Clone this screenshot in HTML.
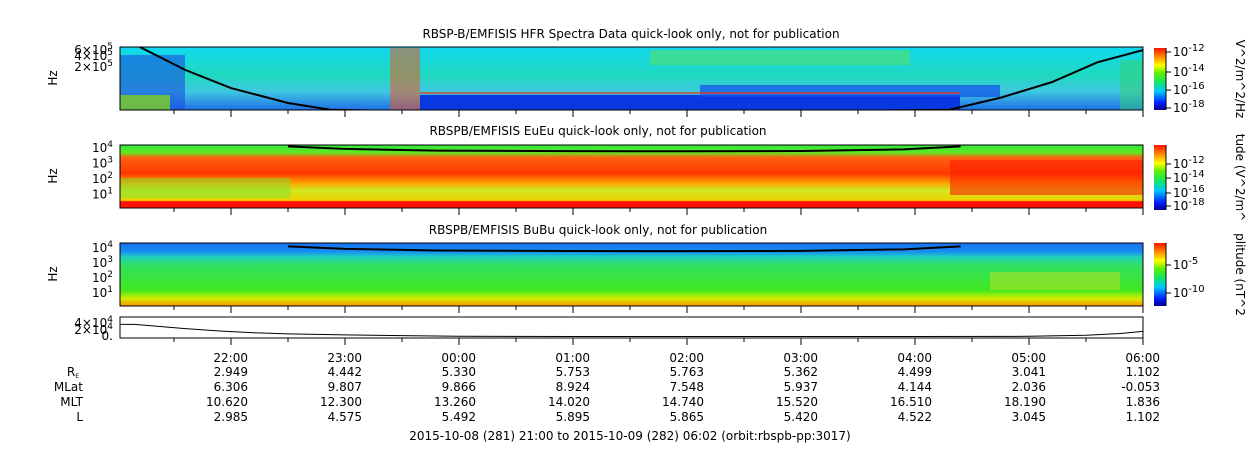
<!DOCTYPE html>
<html><head><meta charset="utf-8"><style>
body{margin:0;background:#fff;}
svg{display:block;font-family:"DejaVu Sans","Liberation Sans",sans-serif;}
</style></head><body>
<svg id="chart" width="1250" height="449" viewBox="0 0 1250 449" xmlns="http://www.w3.org/2000/svg">
<defs>
<linearGradient id="jet" x1="0" y1="1" x2="0" y2="0">
<stop offset="0" stop-color="#00008f"/><stop offset="0.12" stop-color="#0020ff"/><stop offset="0.3" stop-color="#00c8ff"/><stop offset="0.45" stop-color="#10e860"/><stop offset="0.6" stop-color="#60f000"/><stop offset="0.72" stop-color="#ffff00"/><stop offset="0.85" stop-color="#ff9000"/><stop offset="1" stop-color="#ff1000"/>
</linearGradient>
<linearGradient id="p1bg" x1="0" y1="0" x2="0" y2="1">
<stop offset="0" stop-color="#10d8f0"/><stop offset="0.45" stop-color="#20d8c0"/><stop offset="0.7" stop-color="#40c8e0"/><stop offset="1" stop-color="#2070e8"/>
</linearGradient>
<linearGradient id="p2bg" x1="0" y1="0" x2="0" y2="1">
<stop offset="0" stop-color="#30e840"/><stop offset="0.12" stop-color="#60e820"/><stop offset="0.2" stop-color="#ff6010"/><stop offset="0.45" stop-color="#ff3800"/><stop offset="0.6" stop-color="#ffa000"/><stop offset="0.72" stop-color="#d0e820"/><stop offset="0.88" stop-color="#f0d000"/><stop offset="0.9" stop-color="#ff1000"/><stop offset="1" stop-color="#ff1000"/>
</linearGradient>
<linearGradient id="p3bg" x1="0" y1="0" x2="0" y2="1">
<stop offset="0" stop-color="#1870f0"/><stop offset="0.14" stop-color="#1890f0"/><stop offset="0.22" stop-color="#20d0c0"/><stop offset="0.35" stop-color="#30e060"/><stop offset="0.75" stop-color="#40e820"/><stop offset="0.88" stop-color="#d0f000"/><stop offset="1" stop-color="#ff9000"/>
</linearGradient>
</defs>
<g id="panels"></g>
</svg>
<script>
const NS='http://www.w3.org/2000/svg';
const svg=document.getElementById('chart');
// --- data arrays ---
const timeTicks=[1,2,3,4,5,6,7,8,9];
const timeLabels=['22:00','23:00','00:00','01:00','02:00','03:00','04:00','05:00','06:00'];
const rowNames=['R_E','MLat','MLT','L'];
const rowRE=['2.949','4.442','5.330','5.753','5.763','5.362','4.499','3.041','1.102'];
const rowMLat=['6.306','9.807','9.866','8.924','7.548','5.937','4.144','2.036','-0.053'];
const rowMLT=['10.620','12.300','13.260','14.020','14.740','15.520','16.510','18.190','1.836'];
const rowL=['2.985','4.575','5.492','5.895','5.865','5.420','4.522','3.045','1.102'];
// plasma-line (hours after 21:00, Hz)
const hfrT=[0.2,0.6,1.0,1.5,1.87,3.0,5.0,7.3,7.75,8.2,8.6,9.0];
const hfrF=[7.2e5,1.65e5,5.2e4,2.0e4,1.3e4,1.1e4,1.1e4,1.3e4,2.8e4,7.6e4,2.7e5,5.9e5];
const fceT=[1.5,2.0,2.8,4.0,5.0,6.0,6.9,7.4];
const fceF=[1.1e4,7.5e3,5.8e3,5.4e3,5.3e3,5.5e3,7e3,1.1e4];
const ephT=[0,0.15,0.3,0.6,0.9,1.2,1.5,2.0,2.5,3.0,4,5,6,7,8,8.5,8.8,9.0];
const ephF=[3.6e4,3.6e4,3.2e4,2.4e4,1.7e4,1.2e4,9e3,6e3,4e3,2e3,1.5e3,1.5e3,1.5e3,1.5e3,2e3,5e3,1e4,1.6e4];
// --- axes ---
const X0=120,X1=1143;
const xT=t=>117+114*t;
const y1=f=>67-36*Math.log10(f/2e5);
const y2=f=>147+15.5*(4-Math.log10(f));
const y3=f=>247+15*(4-Math.log10(f));
const y4=f=>337-f/4e4*14;
function el(tag,attrs,parent){const e=document.createElementNS(NS,tag);for(const k in attrs)e.setAttribute(k,attrs[k]);(parent||svg).appendChild(e);return e;}
function txt(x,y,s,anchor,size,parent){const e=el('text',{x:x,y:y,'font-size':size||12,'text-anchor':anchor||'start',fill:'#000'},parent);e.textContent=s;return e;}
function clip(id,y0,y1_){const c=el('clipPath',{id:id},svg.querySelector('defs'));el('rect',{x:X0,y:y0,width:X1-X0,height:y1_-y0},c);}
clip('c1',47,110);clip('c2',145,208);clip('c3',243,306);clip('c4',317,338);

// Panel 1
let g=el('g',{'clip-path':'url(#c1)'});


el('rect',{x:X0,y:47,width:X1-X0,height:63,fill:'url(#p1bg)'},g);
el('rect',{x:650,y:50,width:260,height:15,fill:'#60e050',opacity:0.5},g);
el('rect',{x:420,y:95,width:540,height:15,fill:'#0838e0'},g);
el('rect',{x:700,y:85,width:300,height:12,fill:'#1050e8',opacity:0.7},g);
el('rect',{x:120,y:55,width:65,height:55,fill:'#1850e0',opacity:0.6},g);
el('rect',{x:120,y:95,width:50,height:15,fill:'#80d020',opacity:0.8},g);
el('rect',{x:390,y:48,width:30,height:62,fill:'#ff5010',opacity:0.5},g);
el('rect',{x:1120,y:60,width:23,height:50,fill:'#30d070',opacity:0.5},g);
el('rect',{x:420,y:92,width:540,height:2,fill:'#ff3000',opacity:0.6},g);
let pts=hfrT.map((t,i)=>xT(t)+','+y1(hfrF[i])).join(' ');
let pl=el('polyline',{points:pts,fill:'none',stroke:'#000','stroke-width':2},g);


// Panel 2
g=el('g',{'clip-path':'url(#c2)'});


el('rect',{x:X0,y:145,width:X1-X0,height:63,fill:'url(#p2bg)'},g);
el('rect',{x:120,y:178,width:170,height:20,fill:'#80e030',opacity:0.5},g);
el('rect',{x:950,y:160,width:193,height:35,fill:'#ff2000',opacity:0.6},g);
pts=fceT.map((t,i)=>xT(t)+','+y2(fceF[i])).join(' ');
pl=el('polyline',{points:pts,fill:'none',stroke:'#000','stroke-width':2},g);


// Panel 3
g=el('g',{'clip-path':'url(#c3)'});


el('rect',{x:X0,y:243,width:X1-X0,height:63,fill:'url(#p3bg)'},g);
el('rect',{x:990,y:272,width:130,height:18,fill:'#e0e020',opacity:0.4},g);
pts=fceT.map((t,i)=>xT(t)+','+y3(fceF[i])).join(' ');
pl=el('polyline',{points:pts,fill:'none',stroke:'#000','stroke-width':2},g);


// Panel 4
g=el('g',{'clip-path':'url(#c4)'});


pts=ephT.map((t,i)=>xT(t)+','+y4(ephF[i])).join(' ');
pl=el('polyline',{points:pts,fill:'none',stroke:'#000','stroke-width':1},g);



// frames, ticks
const frames=[[47,110],[145,208],[243,306],[317,338]];
frames.forEach((f,i)=>{
 const r=el('rect',{x:X0,y:f[0],width:X1-X0,height:f[1]-f[0],fill:'none',stroke:'#000','stroke-width':1});
 
 
 for(let t=0.5;t<=9.1;t+=0.5){const major=Math.abs(t-Math.round(t))<0.01;
  el('line',{x1:xT(t),x2:xT(t),y1:f[1],y2:f[1]+(major?7:4),stroke:'#000'});}
});
// titles
[[631,38,'RBSP-B/EMFISIS  HFR Spectra Data quick-look only, not for publication'],[598,135,'RBSPB/EMFISIS  EuEu quick-look only, not for publication'],[598,234,'RBSPB/EMFISIS  BuBu quick-look only, not for publication']].forEach((a,i)=>{
 const t=txt(a[0],a[1],a[2],'middle',12);});
// y labels
function ylab(y,s,sup){const t=txt(113,y,s,'end',12);if(sup){const ts=el('tspan',{dy:-5,'font-size':9},t);ts.textContent=sup;}return t;}
ylab(y1(6e5)+4,'6×10','5');ylab(y1(4e5)+4,'4×10','5');ylab(y1(2e5)+4,'2×10','5');
[[4,y2],[3,y2],[2,y2],[1,y2]].forEach(a=>ylab(a[1](Math.pow(10,a[0]))+5,'10',String(a[0])));
[[4],[3],[2],[1]].forEach(a=>ylab(y3(Math.pow(10,a[0]))+5,'10',String(a[0])));
ylab(y4(4e4)+4,'4×10','4');ylab(y4(2e4)+4,'2×10','4');txt(113,y4(0)+3,'0.','end',12);
[[78],[176],[274]].forEach(a=>{const t=el('text',{x:57,y:a[0],'font-size':12,'text-anchor':'middle',transform:'rotate(-90 57 '+a[0]+')'});t.textContent='Hz';});
// colorbars
[[48,110,['10^-12','10^-14','10^-16','10^-18'],[52,72,90,108],'V^2/m^2/Hz'],[145,210,['10^-12','10^-14','10^-16','10^-18'],[164,178,193,206],'tude (V^2/m^'],[243,306,['10^-5','10^-10'],[265,293],'plitude (nT^2']].forEach((c,i)=>{
 const r=el('rect',{x:1154,y:c[0],width:12,height:c[1]-c[0],fill:'url(#jet)'});
 
 el('line',{x1:1166,x2:1166,y1:c[0],y2:c[1],stroke:'#000'});
 c[2].forEach((s,j)=>{const p=s.split('^');const t=txt(1173,c[3][j]+4,p[0],'start',12);const ts=el('tspan',{dy:-5,'font-size':10},t);ts.textContent=p[1];el('line',{x1:1166,x2:1171,y1:c[3][j],y2:c[3][j],stroke:'#000'});});
 const cy=(c[0]+c[1])/2;const t=el('text',{x:1236,y:cy,'font-size':12,'text-anchor':'middle',transform:'rotate(90 1236 '+cy+')'});t.textContent=c[4];
});
// ephemeris table
const rows=[timeLabels,rowRE,rowMLat,rowMLT,rowL];const ry=[362,376,391,406,421];
rows.forEach((r,i)=>r.forEach((s,j)=>{const t=txt(xT(timeTicks[j])+17,ry[i],s,'end',12);}));
const re=txt(79,376,'R','end',12);const sb=el('tspan',{'font-size':6,dy:2},re);sb.textContent='E';
txt(83,391,'MLat','end',12);txt(83,406,'MLT','end',12);txt(83,421,'L','end',12);
const ft=txt(630,440,'2015-10-08 (281) 21:00 to 2015-10-09 (282) 06:02 (orbit:rbspb-pp:3017)','middle',12);

</script>
</body></html>
